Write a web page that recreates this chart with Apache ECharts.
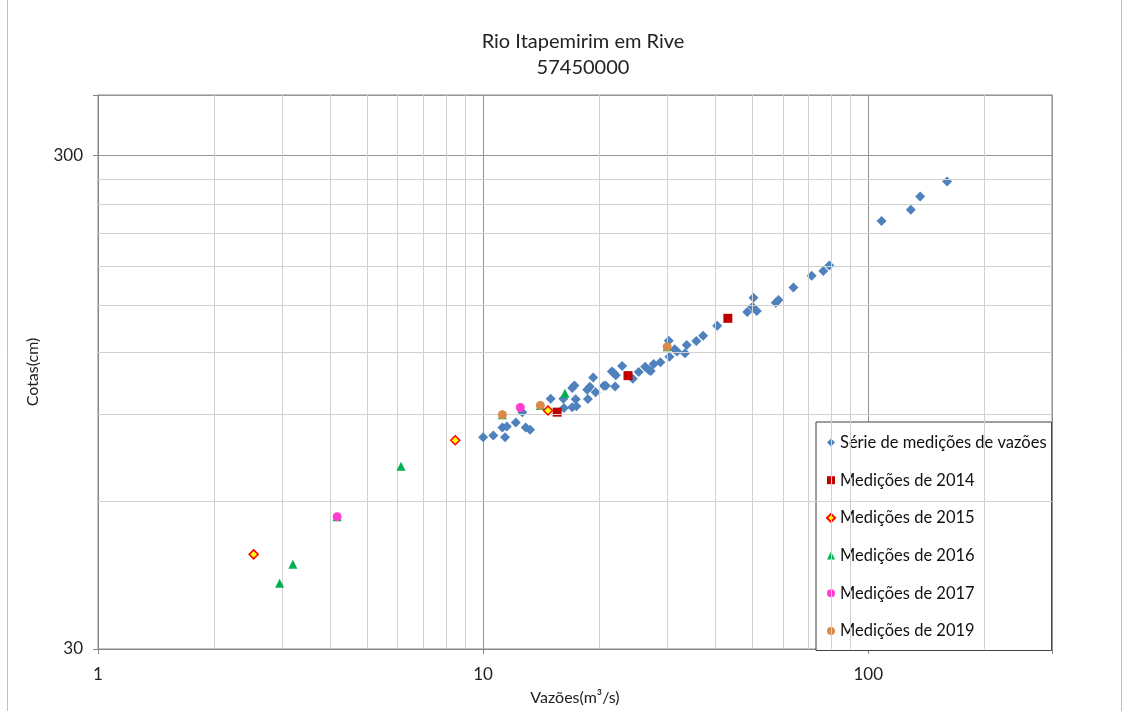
<!DOCTYPE html>
<html>
<head>
<meta charset="utf-8">
<title>Rio Itapemirim em Rive</title>
<script src="https://cdn.jsdelivr.net/npm/echarts@6/dist/echarts.min.js"></script>
<style>
  html, body { margin: 0; padding: 0; background: #fff; }
  #main { width: 1129px; height: 711px; }
</style>
</head>
<body>
<div id="main"></div>
<script type="text/javascript">
// série histórica de medições [vazão m3/s, cota cm]
var serieVazoes = [
  [10.0, 80.7], [10.63, 81.4], [11.40, 80.7], [11.22, 84.5], [11.52, 84.9],
  [12.16, 86.5], [12.64, 90.8], [12.90, 84.5], [13.24, 83.6], [14.98, 96.7],
  [16.15, 96.7], [16.22, 92.6], [17.03, 92.9], [17.47, 93.3], [17.39, 96.4],
  [17.03, 101.6], [17.26, 102.9], [18.63, 100.8], [18.93, 102.2], [19.31, 106.8],
  [18.71, 96.6], [19.59, 99.6], [20.58, 102.7], [20.83, 102.7], [22.02, 102.4],
  [21.59, 109.8], [21.85, 109.0], [22.11, 107.9], [22.96, 112.6], [24.47, 106.2],
  [25.36, 109.6], [26.34, 112.3], [26.92, 110.6], [27.24, 110.1], [27.73, 113.7],
  [28.87, 114.6], [30.34, 126.8], [30.46, 117.7], [31.44, 121.9], [31.87, 120.5],
  [33.43, 119.6], [33.78, 124.3], [35.78, 126.7], [37.26, 129.8], [40.55, 136.0],
  [48.50, 145.0], [50.36, 155.0], [50.06, 148.6], [51.36, 145.7], [57.53, 151.4],
  [58.46, 153.3], [63.93, 162.7], [71.31, 171.8], [76.44, 175.6], [79.25, 180.3],
  [108.3, 221.9], [129.0, 234.0], [136.4, 249.0], [160.2, 267.0]
];
var med2014 = [[15.57, 90.8], [23.78, 107.7], [43.20, 140.8]];
var med2015 = [[2.536, 46.7], [8.464, 79.6], [14.74, 91.5]];
var med2016 = [[2.962, 40.8], [3.206, 44.6], [6.120, 70.5], [16.31, 99.2],
               [4.178, 55.7], [11.22, 89.7], [14.08, 93.7], [30.06, 123.3]];
var med2017 = [[4.178, 55.7], [12.49, 92.8]];
var med2019 = [[11.22, 89.7], [14.08, 93.7], [30.06, 123.3]];

var nomes = ['Série de medições de vazões', 'Medições de 2014', 'Medições de 2015',
             'Medições de 2016', 'Medições de 2017', 'Medições de 2019'];

// linhas de grade secundárias (escala log)
var gradeX = [2, 3, 4, 5, 6, 7, 8, 9, 20, 30, 40, 50, 60, 70, 80, 90, 200];
var gradeY = [60, 90, 120, 150, 180, 210, 240, 270];
var rotulosX = [1, 10, 100];
var rotulosY = [30, 300];

var fonte = 'Lato, "Open Sans", sans-serif';
var myChart = echarts.init(document.getElementById('main'));

var linhasGrade = [];
gradeX.forEach(function (v) { linhasGrade.push({ xAxis: v }); });
gradeY.forEach(function (v) { linhasGrade.push({ yAxis: v }); });

// só mostra os rótulos das décadas
function rotulo(lista) {
  return function (v) {
    for (var i = 0; i < lista.length; i++) {
      if (Math.abs(v / lista[i] - 1) < 0.02) { return String(lista[i]); }
    }
    return '';
  };
}

myChart.setOption({
  animation: false,
  backgroundColor: '#fff',
  textStyle: { fontFamily: fonte },
  title: {
    text: 'Rio Itapemirim em Rive\n57450000',
    left: 578,
    textAlign: 'center',
    top: 24,
    textStyle: { fontSize: 20, fontWeight: 'normal', color: '#222', lineHeight: 26, fontFamily: fonte }
  },
  graphic: [{
    type: 'rect',
    shape: { x: 7.5, y: -5, width: 1114, height: 730 },
    style: { fill: 'none', stroke: '#BFBFBF', lineWidth: 1 },
    silent: true
  }],
  grid: {
    left: 98, right: 77, top: 95, bottom: 61,
    show: true, borderColor: '#868686', borderWidth: 1, backgroundColor: '#fff'
  },
  legend: {
    orient: 'vertical',
    left: 816,
    top: 422,
    padding: [12, 5, 11, 10],
    itemWidth: 8,
    itemHeight: 8,
    itemGap: 20.7,
    backgroundColor: '#fff',
    borderColor: '#404040',
    borderWidth: 1,
    borderRadius: 0,
    textStyle: { fontSize: 16.5, color: '#111', fontFamily: fonte },
    data: nomes
  },
  xAxis: {
    type: 'log',
    logBase: 10,
    min: 1,
    max: 300,
    name: 'Vazões(m³/s)',
    nameLocation: 'middle',
    nameGap: 41,
    nameTextStyle: { fontSize: 16, color: '#222' },
    axisLine: { show: true, lineStyle: { color: '#868686' } },
    axisTick: { show: true, length: 5, lineStyle: { color: '#868686' } },
    axisLabel: {
      fontSize: 17, color: '#222', margin: 17, interval: 0, hideOverlap: false,
      formatter: rotulo(rotulosX)
    },
    splitLine: { show: true, lineStyle: { color: '#959595' } },
    minorTick: { show: false },
    minorSplitLine: { show: false }
  },
  yAxis: {
    type: 'log',
    logBase: 10,
    min: 30,
    max: 400,
    interval: 1,
    name: 'Cotas(cm)',
    nameLocation: 'middle',
    nameGap: 57,
    nameTextStyle: { fontSize: 16, color: '#222' },
    axisLine: { show: true, lineStyle: { color: '#868686' } },
    axisTick: { show: true, length: 5, interval: 0, lineStyle: { color: '#868686' } },
    axisLabel: {
      fontSize: 17, color: '#222', margin: 15, interval: 0, hideOverlap: false,
      showMinLabel: true, showMaxLabel: true,
      formatter: rotulo(rotulosY)
    },
    splitLine: { show: true, lineStyle: { color: '#959595' } }
  },
  series: [
    {
      name: 'grade',
      type: 'scatter',
      data: [],
      z: 1,
      silent: true,
      markLine: {
        silent: true,
        symbol: 'none',
        animation: false,
        label: { show: false },
        lineStyle: { color: '#D0D0D0', width: 1, type: 'solid' },
        data: linhasGrade
      }
    },
    {
      name: nomes[0], type: 'scatter', symbol: 'diamond', symbolSize: 10, z: 3,
      itemStyle: { color: '#4F81BD', opacity: 1 },
      data: serieVazoes
    },
    {
      name: nomes[1], type: 'scatter', symbol: 'rect', symbolSize: 9, z: 4,
      itemStyle: { color: '#C00000', opacity: 1 },
      data: med2014
    },
    {
      name: nomes[2], type: 'scatter', symbol: 'diamond', symbolSize: 9, z: 5,
      itemStyle: { color: '#FFFF00', borderColor: '#FF0000', borderWidth: 1.5, opacity: 1 },
      data: med2015
    },
    {
      name: nomes[3], type: 'scatter', symbol: 'triangle', symbolSize: 9, z: 6,
      itemStyle: { color: '#00B050', opacity: 1 },
      data: med2016
    },
    {
      name: nomes[4], type: 'scatter', symbol: 'circle', symbolSize: 9, z: 7,
      itemStyle: { color: '#FF3DCF', opacity: 1 },
      data: med2017
    },
    {
      name: nomes[5], type: 'scatter', symbol: 'circle', symbolSize: 9, z: 8,
      itemStyle: { color: '#DA8A48', opacity: 1 },
      data: med2019
    }
  ]
});
</script>
</body>
</html>
